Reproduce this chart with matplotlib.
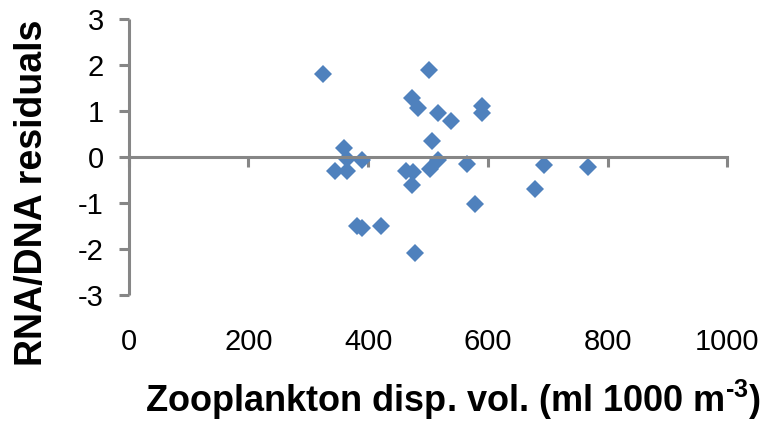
import matplotlib
matplotlib.use("Agg")
import matplotlib.pyplot as plt

# zooplankton displacement volume vs RNA/DNA residuals
zoo_vol = [324, 502, 474, 484, 516, 538, 506, 359, 590, 590,
           364, 389, 345, 364, 517, 503, 464, 475, 473, 565,
           382, 389, 421, 479, 579, 694, 679, 768]
residuals = [1.81, 1.89, 1.28, 1.08, 0.97, 0.78, 0.35, 0.20, 1.11, 0.95,
             -0.04, -0.07, -0.30, -0.31, -0.07, -0.25, -0.30, -0.32, -0.61, -0.16,
             -1.50, -1.55, -1.50, -2.08, -1.02, -0.17, -0.70, -0.22]
x_ticks = [0, 200, 400, 600, 800, 1000]
y_ticks = [-3, -2, -1, 0, 1, 2, 3]

plt.rcParams['font.family'] = ['Liberation Sans', 'DejaVu Sans']
plt.rcParams['axes.unicode_minus'] = False
plt.rcParams['mathtext.fontset'] = 'custom'
plt.rcParams['mathtext.rm'] = 'Liberation Sans:bold'

axis_grey = '#868686'
marker_blue = '#4F81BD'

fig = plt.figure(figsize=(7.74, 4.25), dpi=100)
ax = fig.add_axes([0.1663, 0.3059, 0.7734, 0.6487])

ax.plot(zoo_vol, residuals, 'D', color=marker_blue, markersize=9.5,
        markeredgewidth=0, clip_on=False)

ax.set_xlim(0, 1000)
ax.set_ylim(-3, 3)
ax.set_xticks(x_ticks)
ax.set_yticks(y_ticks)

ax.spines['top'].set_visible(False)
ax.spines['right'].set_visible(False)
ax.spines['bottom'].set_position(('data', 0))
for s in ['left', 'bottom']:
    ax.spines[s].set_color(axis_grey)
    ax.spines[s].set_linewidth(2.2)
ax.spines['left'].set_capstyle('butt')

ax.tick_params(axis='both', direction='out', length=7, width=2.2,
               color=axis_grey, labelsize=21, labelcolor='black')
ax.tick_params(axis='y', pad=11)
ax.tick_params(axis='x', pad=116)

ax.set_xlabel(r'Zooplankton disp. vol. (ml 1000 m$^{\text{-}3}$)',
              fontsize=26, fontweight='bold')
ax.xaxis.set_label_coords(0.5426, -0.30)
ax.set_ylabel('RNA/DNA residuals', fontsize=27, fontweight='bold', va='center')
ax.yaxis.set_label_coords(-0.1615, 0.372)

fig.savefig('out.png', dpi=100)
